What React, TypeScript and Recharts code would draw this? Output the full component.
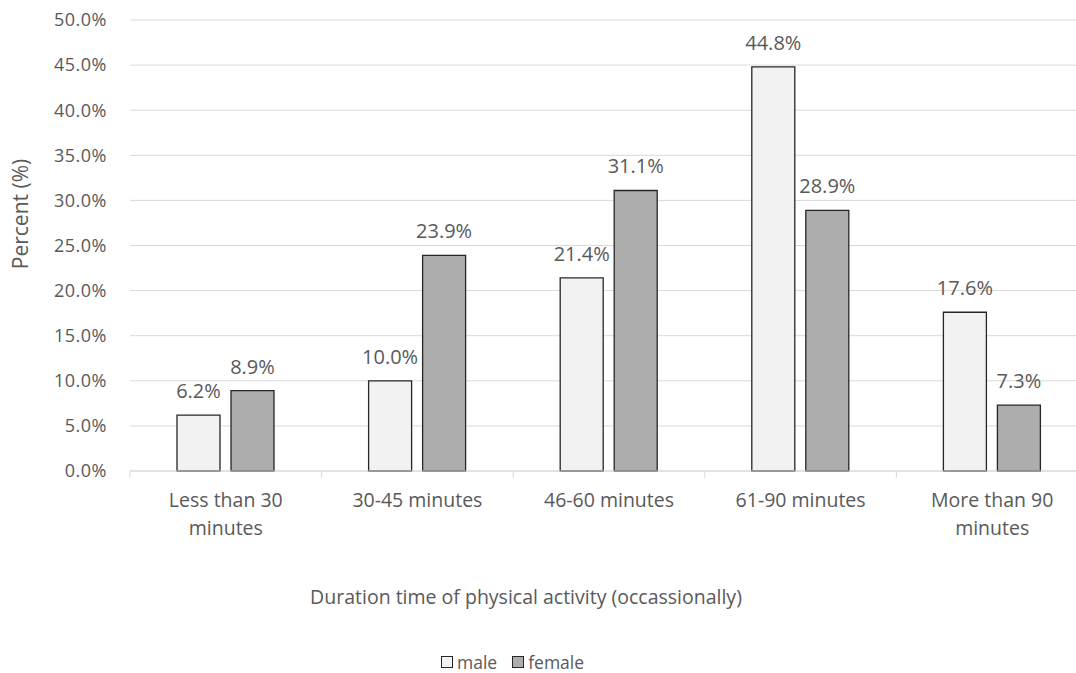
import React from 'react';
import {
  BarChart,
  Bar,
  XAxis,
  YAxis,
  CartesianGrid,
  LabelList,
  Legend,
} from 'recharts';

// Duration categories and share of respondents (%) per sex
const categories = [
  'Less than 30 minutes',
  '30-45 minutes',
  '46-60 minutes',
  '61-90 minutes',
  'More than 90 minutes',
];
const maleValues = [6.2, 10.0, 21.4, 44.8, 17.6];
const femaleValues = [8.9, 23.9, 31.1, 28.9, 7.3];
const yTicks = [0, 5, 10, 15, 20, 25, 30, 35, 40, 45, 50];

const seriesList = [
  { key: 'male', name: 'male', fill: '#f2f2f2' },
  { key: 'female', name: 'female', fill: '#adadad' },
];

const data = categories.map((category, i) => ({
  category,
  male: maleValues[i],
  female: femaleValues[i],
}));

const FONT = "'Open Sans', sans-serif";
const TEXT = '#595959';
const GRID = '#d9d9d9';
const OUTLINE = '#262626';

const CHART_W = 1088;
const CHART_H = 673;
const Y_AXIS_W = 130;
const PLOT_W = CHART_W - Y_AXIS_W;
const BAND = PLOT_W / categories.length;
const WRAP_CHARS = 13;

const pct = (v: number) => `${Number(v).toFixed(1)}%`;

// Greedy word wrap for the category labels
const wrapLabel = (label: string): string[] => {
  const lines: string[] = [];
  let current = '';
  label.split(' ').forEach((word) => {
    const next = current ? `${current} ${word}` : word;
    if (next.length > WRAP_CHARS && current) {
      lines.push(current);
      current = word;
    } else {
      current = next;
    }
  });
  if (current) lines.push(current);
  return lines;
};

const CategoryTick = (props: any) => {
  const { x, y, payload, index } = props;
  const left = x - BAND / 2;
  const right = x + BAND / 2;
  const lines = wrapLabel(String(payload.value));
  return (
    <g>
      <line x1={left} x2={left} y1={y} y2={y + 7} stroke={GRID} strokeWidth={1} />
      {index === categories.length - 1 && (
        <line x1={right} x2={right} y1={y} y2={y + 7} stroke={GRID} strokeWidth={1} />
      )}
      <text
        x={x}
        y={y + 36}
        textAnchor="middle"
        fill={TEXT}
        style={{ fontSize: 19.5, fontFamily: FONT }}
      >
        {lines.map((line, i) => (
          <tspan key={i} x={x} dy={i === 0 ? 0 : 28}>
            {line}
          </tspan>
        ))}
      </text>
    </g>
  );
};

const XTitle = () => (
  <text x={526} y={604} textAnchor="middle" fill={TEXT} style={{ fontSize: 19.5, fontFamily: FONT }}>
    Duration time of physical activity (occassionally)
  </text>
);

const YTitle = () => (
  <text
    transform="translate(19.5, 214) rotate(-90)"
    textAnchor="middle"
    dominantBaseline="central"
    fill={TEXT}
    style={{ fontSize: 21, fontFamily: FONT }}
  >
    Percent (%)
  </text>
);

const LegendContent = () => (
  <div
    style={{
      display: 'flex',
      alignItems: 'center',
      height: 30,
      fontFamily: FONT,
      fontSize: 17.5,
      lineHeight: '30px',
      color: TEXT,
    }}
  >
    {seriesList.map((s, i) => (
      <div key={s.key} style={{ display: 'flex', alignItems: 'center', marginLeft: i === 0 ? 0 : 15 }}>
        <span
          style={{
            display: 'inline-block',
            width: 10,
            height: 10,
            background: s.fill,
            border: `1px solid ${OUTLINE}`,
            marginRight: 4,
          }}
        />
        <span>{s.name}</span>
      </div>
    ))}
  </div>
);

export default function App() {
  return (
    <div
      style={{
        position: 'absolute',
        left: 0,
        top: 0,
        width: 1076,
        height: 673,
        overflow: 'hidden',
        background: '#ffffff',
      }}
    >
      <BarChart
        width={CHART_W}
        height={CHART_H}
        data={data}
        margin={{ top: 20, right: 0, bottom: 0, left: 0 }}
        barSize={43}
        barGap={11}
        style={{ fontFamily: FONT }}
      >
        <CartesianGrid vertical={false} stroke={GRID} strokeWidth={1} />
        <XAxis
          dataKey="category"
          height={202}
          interval={0}
          axisLine={{ stroke: GRID, strokeWidth: 1 }}
          tickLine={false}
          tickSize={0}
          tickMargin={0}
          tick={<CategoryTick />}
          label={{ content: <XTitle /> }}
        />
        <YAxis
          width={Y_AXIS_W}
          domain={[0, 50]}
          ticks={yTicks}
          interval={0}
          tickFormatter={pct}
          axisLine={false}
          tickLine={false}
          tickSize={0}
          tickMargin={23}
          tick={{ fill: TEXT, fontSize: 18, fontFamily: FONT, letterSpacing: 0.5 }}
          label={{ content: <YTitle /> }}
        />
        <Legend
          layout="vertical"
          align="center"
          verticalAlign="middle"
          wrapperStyle={{ left: 441, top: 647, width: 200, height: 30 }}
          content={<LegendContent />}
        />
        {seriesList.map((s) => (
          <Bar
            key={s.key}
            dataKey={s.key}
            name={s.name}
            fill={s.fill}
            stroke={OUTLINE}
            strokeWidth={1.3}
            isAnimationActive={false}
          >
            <LabelList
              dataKey={s.key}
              position="top"
              offset={17}
              formatter={pct}
              fill={TEXT}
              stroke="none"
              style={{ fontSize: 20, fontFamily: FONT }}
            />
          </Bar>
        ))}
      </BarChart>
    </div>
  );
}
